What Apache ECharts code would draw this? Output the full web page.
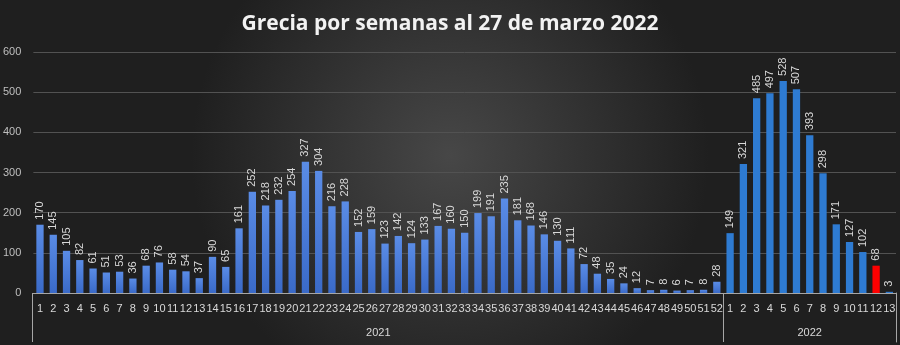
<!DOCTYPE html>
<html><head><meta charset="utf-8">
<script src="https://cdn.jsdelivr.net/npm/echarts@6/dist/echarts.min.js"></script>
<style>html,body{margin:0;padding:0;background:#2a2a2a}#c{width:900px;height:345px}</style>
</head><body><div id="c"></div>
<script>
const title = 'Grecia por semanas al 27 de marzo 2022';
const years = ['2021', '2022'];
const weeks2021 = [1,2,3,4,5,6,7,8,9,10,11,12,13,14,15,16,17,18,19,20,21,22,23,24,25,26,27,28,29,30,31,32,33,34,35,36,37,38,39,40,41,42,43,44,45,46,47,48,49,50,51,52];
const weeks2022 = [1,2,3,4,5,6,7,8,9,10,11,12,13];
const values2021 = [170,145,105,82,61,51,53,36,68,76,58,54,37,90,65,161,252,218,232,254,327,304,216,228,152,159,123,142,124,133,167,160,150,199,191,235,181,168,146,130,111,72,48,35,24,12,7,8,6,7,8,28];
const values2022 = [149,321,485,497,528,507,393,298,171,127,102,68,3];
const highlightWeek2022 = 12;
const yTicks = [0,100,200,300,400,500,600];

const FONT = '"Liberation Sans", Arial, sans-serif';
const cats = weeks2021.map(String).concat(weeks2022.map(String));
const yearCats = weeks2021.map(() => years[0]).concat(weeks2022.map(() => years[1]));
const n2021 = weeks2021.length, nAll = cats.length;
const mid2021 = Math.floor((n2021 - 1) / 2);
const mid2022 = n2021 + Math.floor((weeks2022.length - 1) / 2);

const grad2021 = new echarts.graphic.LinearGradient(0,0,0,1,[{offset:0,color:'#5a8ce6'},{offset:1,color:'#3a6ac8'}]);
const data = values2021.map(v => ({value: v, itemStyle: {color: grad2021}}))
  .concat(values2022.map((v, i) => ({value: v, itemStyle: {color: weeks2022[i] === highlightWeek2022 ? '#ff0000' : '#2e7bd2'}})));

const sepStyle = {color: '#a6a6a6', width: 1};
const chart = echarts.init(document.getElementById('c'), null, {renderer: 'canvas'});
chart.setOption({
  backgroundColor: new echarts.graphic.RadialGradient(0.5, 0.45, 0.75, [{offset:0,color:'#474747'},{offset:1,color:'#1f1f1f'}]),
  animation: false,
  title: {text: title, left: 'center', top: 9, textStyle: {color: '#f2f2f2', fontSize: 21, fontWeight: 'bold', fontFamily: '"Open Sans", sans-serif'}},
  grid: [
    {left: 32, right: 4, top: 52, bottom: 52, containLabel: false},
    {left: 32, right: 4, top: 293, bottom: 3, containLabel: false}
  ],
  yAxis: [
    {type: 'value', gridIndex: 0, min: yTicks[0], max: yTicks[yTicks.length-1], interval: 100,
      axisLine: {show: false}, axisTick: {show: false},
      axisLabel: {color: '#bfbfbf', fontSize: 11, fontFamily: FONT, margin: 12},
      splitLine: {lineStyle: {color: '#525252', width: 1}}},
    {type: 'value', gridIndex: 1, min: 0, max: 1, position: 'right',
      axisLine: {show: true, onZero: false, lineStyle: sepStyle}, axisTick: {show: false}, axisLabel: {show: false}, splitLine: {show: false}}
  ],
  xAxis: [
    {type: 'category', data: cats, gridIndex: 0, position: 'bottom',
      axisLine: {lineStyle: {color: '#a6a6a6', width: 1}}, axisTick: {show: false},
      axisLabel: {color: '#d9d9d9', fontSize: 11, fontFamily: FONT, interval: 0, margin: 10}},
    {type: 'category', data: yearCats, position: 'bottom', gridIndex: 0,
      axisLine: {show: false}, axisTick: {show: false},
      axisLabel: {color: '#d9d9d9', fontSize: 11, fontFamily: FONT, margin: 34,
        interval: (i) => i === mid2021 || i === mid2022,
        formatter: (v, i) => i === mid2021 ? '{a|' + v + '}' : v,
        rich: {a: {color: '#d9d9d9', fontSize: 11, fontFamily: FONT, padding: [0,0,0,13]}}}},
    {type: 'value', gridIndex: 1, position: 'top', min: 0, max: nAll, interval: n2021,
      axisLine: {show: false}, axisTick: {show: false}, axisLabel: {show: false},
      splitLine: {show: true, showMinLine: true, showMaxLine: true, lineStyle: sepStyle}}
  ],
  series: [{
    type: 'bar', data: data, barWidth: '55%', xAxisIndex: 0, yAxisIndex: 0,
    label: {show: true, position: 'top', rotate: 90, align: 'left', verticalAlign: 'middle', distance: 5,
      color: '#d9d9d9', fontSize: 11, fontFamily: FONT}
  }]
});
</script></body></html>
